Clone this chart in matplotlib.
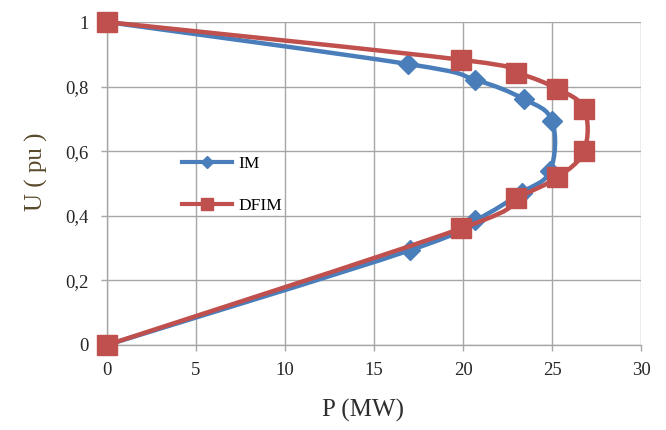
import numpy as np
import matplotlib
matplotlib.use('Agg')
import matplotlib.pyplot as plt
from matplotlib.path import Path
from matplotlib.patches import PathPatch
from matplotlib.lines import Line2D
from matplotlib.ticker import FuncFormatter, MultipleLocator

plt.rcParams['font.family'] = ['Liberation Serif', 'DejaVu Serif']

# values
im_p = [0, 16.9, 20.7, 23.4, 25.0, 24.9, 23.3, 20.7, 17.0, 0]
im_u = [1.0, 0.870, 0.821, 0.762, 0.694, 0.54, 0.472, 0.386, 0.293, 0.0]
dfim_p = [0, 19.9, 23.0, 25.3, 26.8, 26.8, 25.3, 23.0, 19.9, 0]
dfim_u = [1.0, 0.883, 0.843, 0.793, 0.731, 0.602, 0.519, 0.454, 0.361, 0.0]

BLUE = '#4a7ebb'
RED = '#c0504d'
GRID = '#a6a6a6'


def smooth_path(xs, ys):
    # Excel-like smoothed line: Catmull-Rom control points as cubic beziers
    pts = np.column_stack([xs, ys]).astype(float)
    n = len(pts)
    verts = [pts[0]]
    codes = [Path.MOVETO]
    for i in range(n - 1):
        p0 = pts[i - 1] if i > 0 else pts[i]
        p1 = pts[i]
        p2 = pts[i + 1]
        p3 = pts[i + 2] if i + 2 < n else pts[i + 1]
        c1 = p1 + (p2 - p0) / 5.5
        c2 = p2 - (p3 - p1) / 5.5
        verts += [c1, c2, p2]
        codes += [Path.CURVE4] * 3
    return Path(verts, codes)


fig = plt.figure(figsize=(6.66, 4.30), dpi=100)
ax = fig.add_axes([0.1607, 0.1977, 0.8018, 0.7511])

ax.set_xlim(0, 30)
ax.set_ylim(0, 1)
ax.xaxis.set_major_locator(MultipleLocator(5))
ax.yaxis.set_major_locator(MultipleLocator(0.2))
ax.yaxis.set_major_formatter(FuncFormatter(lambda v, p: ('%g' % round(v, 1)).replace('.', ',')))
ax.grid(True, color=GRID, linewidth=1.0)
ax.set_axisbelow(True)

for s in ['top', 'right']:
    ax.spines[s].set_visible(False)
for s in ['left', 'bottom']:
    ax.spines[s].set_color(GRID)
    ax.spines[s].set_linewidth(1.0)

ax.tick_params(axis='both', colors=GRID, labelcolor='#262626', labelsize=13.5,
               length=4, width=1.0)
ax.tick_params(axis='y', pad=9)
ax.tick_params(axis='x', pad=8)

# IM
ax.add_patch(PathPatch(smooth_path(im_p, im_u), facecolor='none', edgecolor=BLUE,
                       linewidth=3.2, clip_on=False, zorder=3))
ax.plot(im_p, im_u, linestyle='none', marker='D', markersize=10, color=BLUE,
        clip_on=False, zorder=4)

# DFIM
ax.add_patch(PathPatch(smooth_path(dfim_p, dfim_u), facecolor='none', edgecolor=RED,
                       linewidth=3.2, clip_on=False, zorder=5))
ax.plot(dfim_p, dfim_u, linestyle='none', marker='s', markersize=14.5, color=RED,
        clip_on=False, zorder=6)

handles = [Line2D([], [], color=BLUE, linewidth=3, marker='D', markersize=6),
           Line2D([], [], color=RED, linewidth=3, marker='s', markersize=8)]
leg = ax.legend(handles, ['IM', 'DFIM'], loc='center left',
                bbox_to_anchor=(182 / 666, 1 - 185 / 430), bbox_transform=fig.transFigure,
                frameon=False, fontsize=12.5, labelspacing=1.45, handlelength=2.9,
                handletextpad=0.35, borderpad=0, borderaxespad=0)

fig.text(363 / 666, 1 - 410 / 430, 'P (MW)', ha='center', va='center',
         fontsize=18, color='#2e2e2e')
fig.text(36 / 666, 1 - 172 / 430, 'U ( pu )', ha='center', va='center',
         fontsize=18, color='#5a4a2c', rotation=90)

fig.savefig('out.png', dpi=100)
